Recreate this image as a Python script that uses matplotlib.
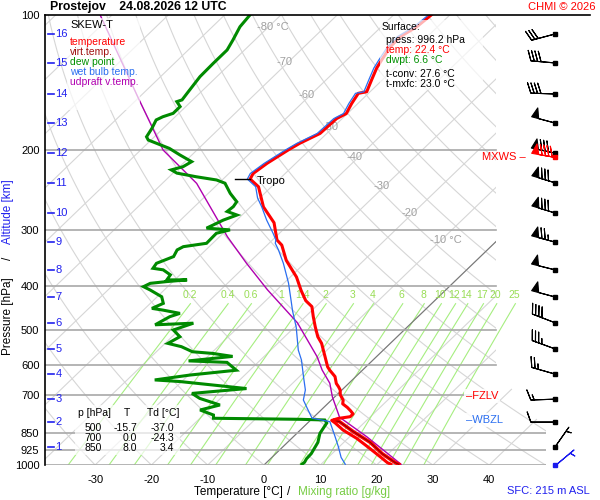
import numpy as np
import matplotlib
matplotlib.use('Agg')
import matplotlib.pyplot as plt
from matplotlib.patches import Polygon, Rectangle
from matplotlib.lines import Line2D
from matplotlib.ticker import NullLocator
import matplotlib.patheffects as pe

plt.rcParams['font.family'] = ['Liberation Sans', 'DejaVu Sans']

# ---------------- data ----------------
temp_p = [996.2, 988.2, 958.4, 918.3, 873.0, 836.3, 806.6, 796.0, 788.0, 781.0, 770.0, 758.0,
          745.0, 731.3, 717.6, 698.2, 681.3, 670.0, 658.8, 636.0, 615.7, 605.2, 573.7, 536.7,
          518.8, 492.9, 468.2, 444.7, 431.3, 409.4, 382.2, 350.9, 324.6, 316.2, 289.5, 267.0,
          240.8, 231.5, 225.0, 213.6, 199.5, 192.9, 183.3, 169.9, 165.6, 157.3, 149.3, 148.1,
          139.5, 131.2, 125.9, 117.6, 111.7, 106.2, 100.0]
temp_T = [22.4, 21.5, 19.1, 15.7, 11.6, 7.6, 4.9, 3.8, 4.6, 6.4, 6.4, 5.4,
          4.2, 2.7, 2.1, 0.6, -0.3, -1.2, -2.2, -3.7, -5.8, -6.8, -9.2, -12.2,
          -14.1, -16.4, -18.6, -20.7, -22.9, -25.6, -28.9, -33.8, -37.4, -39.2, -42.9, -47.7,
          -52.3, -55.2, -55.7, -55.1, -53.8, -53.0, -51.2, -51.0, -50.2, -51.1, -51.8, -50.6,
          -51.9, -53.2, -53.8, -54.7, -54.8, -53.7, -53.3]

virt_p = [996.2, 987.0, 943.7, 890.7, 843.0, 801.0, 796.0]
virt_T = [23.8, 22.8, 18.9, 14.7, 9.7, 5.4, 4.3]

dew_p = [996.2, 986.0, 968.6, 943.7, 890.7, 850.7, 806.6, 794.3, 791.5, 787.3, 774.3, 754.7,
         735.6, 711.2, 693.3, 676.3, 652.5, 647.1, 631.0, 615.7, 591.5, 587.0, 573.7, 565.0,
         560.2, 545.8, 536.7, 518.8, 501.2, 484.0, 488.0, 468.2, 460.3, 452.7, 448.7, 437.3,
         422.8, 408.4, 401.5, 394.7, 391.2, 387.8, 387.8, 378.0, 368.4, 365.5, 356.3, 344.2,
         332.7, 327.2, 321.6, 305.5, 300.3, 297.6, 292.9, 285.6, 278.3, 273.3, 266.6, 260.0,
         249.1, 236.5, 232.6, 228.8, 224.6, 220.9, 217.3, 211.8, 204.7, 197.9, 194.1, 189.6,
         186.5, 178.6, 171.1, 168.3, 165.4, 159.8, 155.8, 154.4, 148.0, 137.1, 128.0, 119.6,
         113.7, 106.2, 100.0]
dew_T = [6.6, 6.7, 6.4, 6.3, 5.4, 4.1, 3.4, 2.5, -2.0, -17.6, -18.2, -21.5,
         -18.9, -23.7, -26.0, -17.2, -30.3, -35.1, -29.7, -22.4, -25.5, -32.6, -25.6, -29.7,
         -33.6, -36.5, -39.5, -38.6, -41.0, -38.7, -45.2, -44.1, -42.9, -46.5, -48.8, -47.7,
         -49.2, -52.5, -54.3, -53.7, -51.1, -47.8, -51.4, -51.7, -53.9, -56.0, -56.3, -54.5,
         -55.1, -54.6, -51.1, -51.2, -49.4, -53.9, -53.3, -52.4, -50.9, -53.3, -53.1, -53.4,
         -56.1, -58.9, -61.0, -65.2, -69.3, -70.9, -69.4, -68.8, -72.1, -75.2, -77.6, -80.5,
         -81.4, -82.0, -82.8, -82.2, -81.0, -81.0, -82.5, -81.9, -82.3, -83.0, -83.1, -83.1,
         -83.9, -85.1, -85.5]

wet_p = [996.2, 962.0, 910.0, 865.0, 801.0, 787.0, 755.0, 717.0, 681.0, 636.0, 584.5, 555.5,
         494.0, 454.0, 431.3, 394.2, 356.0, 332.7, 321.5, 316.2, 305.7, 285.6, 267.0, 255.0,
         240.8, 231.5, 225.0, 213.6, 199.5, 192.9, 183.3, 169.9, 165.6, 157.3, 149.3, 148.1,
         139.5, 131.2, 125.9, 117.6, 111.7, 106.2, 100.0]
wet_T = [14.3, 12.3, 9.8, 7.4, 3.7, -0.1, -2.3, -5.0, -6.5, -9.3, -12.7, -15.1,
         -19.7, -23.4, -25.5, -29.2, -33.8, -37.1, -38.9, -39.4, -41.1, -44.7, -48.0, -50.4,
         -52.8, -55.7, -56.2, -55.6, -54.3, -53.5, -51.7, -51.5, -50.7, -51.6, -52.3, -51.1,
         -52.4, -53.7, -54.3, -55.2, -55.3, -54.2, -53.8]

parcel_p = [996.2, 866.0, 783.0, 706.0, 658.0, 615.0, 575.0, 483.0, 408.0, 356.3, 311.0,
            236.7, 199.6, 152.1, 100.0]
parcel_T = [24.2, 13.1, 4.6, -0.4, -3.4, -7.2, -10.5, -20.3, -31.7, -40.3, -48.6,
            -63.9, -76.0, -90.3, -112.1]

# wind: altitude [km] levels, pressure, direction [deg], speed [kt]
alt_km = [16, 15, 14, 13, 12, 11, 10, 9, 8, 7, 6, 5, 4, 3, 2, 1]
alt_p = [110.2, 127.8, 149.8, 173.8, 202.7, 236.0, 275.4, 319.6, 368.4, 423.2, 482.9,
         552.0, 628.0, 714.0, 803.0, 912.0]
wind_dir = [255, 275, 272, 285, 282, 287, 287, 285, 284, 285, 291, 290, 286, 268, 270, 35]
wind_spd = [30, 40, 40, 50, 80, 80, 80, 75, 50, 50, 40, 35, 25, 15, 10, 5]
sfc_p, sfc_dir, sfc_spd = 1000.0, 50, 5
mxws_p, mxws_dir, mxws_spd = 207.0, 280, 90

mix_ratios = [0.2, 0.4, 0.6, 1, 1.4, 2, 3, 4, 6, 8, 10, 12, 14, 17, 20, 25]
mix_labels = ['0.2', '0.4', '0.6', '1', '1.4', '2', '3', '4', '6', '8', '10', '12', '14', '17', '20', '25']

p_ticks = [100, 200, 300, 400, 500, 600, 700, 850, 925, 1000]
t_ticks = [-30, -20, -10, 0, 10, 20, 30, 40]
iso_label_T = [-80, -70, -60, -50, -40, -30, -20, -10]
iso_label_p = [106.3, 127.2, 150.6, 177.0, 206.7, 239.8, 275.5, 316.0]
iso_label_txt = ['-80 °C', '-70', '-60', '-50', '-40', '-30', '-20', '-10 °C']

tab_p = [500, 700, 850]
tab_T = [-15.7, 0.0, 8.0]
tab_Td = [-37.0, -24.3, 3.4]

sfc_press, sfc_temp, sfc_dwpt, t_conv, t_mxfc = 996.2, 22.4, 6.6, 27.6, 23.0
tropo_p, tropo_T = 231.5, -55.2
fzlv_p, wbzl_p = 703.0, 794.0

SKEW = 83.0


def X(T, p):
    return np.asarray(T, dtype=float) + SKEW * np.log10(1000.0 / np.asarray(p, dtype=float))


W, H = 600, 500


def fx(px):
    return px / W


def fy(py):
    return 1 - py / H


fig = plt.figure(figsize=(6, 5), dpi=100, facecolor='white')
ax = fig.add_axes([fx(45), fy(465), 501 / W, 450 / H])
ax.set_yscale('log')
ax.set_ylim(1000, 100)
ax.set_xlim(-38.9, 50.09)
ax.yaxis.set_minor_locator(NullLocator())
ax.set_yticks(p_ticks)
ax.set_yticklabels([str(v) for v in p_ticks])
ax.set_xticks(t_ticks)
ax.set_xticklabels([str(v) for v in t_ticks])
ax.tick_params(length=0, labelsize=8)
ax.tick_params(axis='y', pad=4)
ax.tick_params(axis='x', pad=7)
for s in ['top', 'right', 'bottom']:
    ax.spines[s].set_visible(False)
ax.spines['left'].set_linewidth(1.2)

clip_poly = Polygon([(0, 1), (451 / 501, 1), (451 / 501, 95 / 450), (1, 35 / 450), (1, 0), (0, 0)],
                    closed=True, transform=ax.transAxes, facecolor='none', edgecolor='none')

# isotherms
for t in range(-140, 60, 10):
    pp = np.array([1000.0, 100.0])
    ln, = ax.plot(X([t, t], pp), pp, color='#d6d6d6', lw=0.8, zorder=1)
    ln.set_clip_path(clip_poly)
ln, = ax.plot(X([0, 0], [1000, 100]), [1000, 100], color='#777777', lw=0.8, zorder=1.5)
ln.set_clip_path(clip_poly)

# dry adiabats
pg = np.logspace(3, 2, 80)
for th in range(-40, 230, 10):
    tt = (th + 273.15) * (pg / 1000.0) ** 0.2857 - 273.15
    ln, = ax.plot(X(tt, pg), pg, color='#d6d6d6', lw=0.8, zorder=1)
    ln.set_clip_path(clip_poly)

# mixing ratio lines
pm = np.linspace(1000, 438, 40)
for w, lab in zip(mix_ratios, mix_labels):
    e = w * pm / (622.0 + w)
    lr = np.log(e / 6.112)
    td = 243.5 * lr / (17.67 - lr)
    ax.plot(X(td, pm), pm, color='#a6ee80', lw=0.8, zorder=1.2)
    e0 = w * 419.0 / (622.0 + w)
    l0 = np.log(e0 / 6.112)
    td0 = 243.5 * l0 / (17.67 - l0)
    ax.text(X(td0, 419.0) - 1.2, 419.0, lab, color='#99dd55', fontsize=7.5,
            ha='center', va='center', zorder=2)

# isotherm labels
for t, p, s in zip(iso_label_T, iso_label_p, iso_label_txt):
    ax.text(X(t, p) - 2.1, p, s, color='#a0a0a0', fontsize=8, ha='left', va='center', zorder=2)

# pressure lines
for p in p_ticks[1:]:
    xm = 1.0 if p >= 850 else 451 / 501
    ax.axhline(p, xmin=0, xmax=xm, color='#a8a8a8', lw=1.2, zorder=1.8)

# profiles
ax.plot(X(parcel_T, parcel_p), parcel_p, color='#b000b0', lw=1.0, zorder=3)
ax.plot(X(dew_T, dew_p), dew_p, color='#008a00', lw=2.2, zorder=4, solid_joinstyle='miter')
ax.plot(X(virt_T, virt_p), virt_p, color='#8b0000', lw=0.8, zorder=4.5,
        path_effects=[pe.Stroke(linewidth=2.6, foreground='#ff0000'), pe.Normal()])
ax.plot(X(temp_T, temp_p), temp_p, color='#ff0000', lw=2.2, zorder=5)
ax.plot(X(wet_T, wet_p), wet_p, color='#2a6ef0', lw=0.9, zorder=5.5)

# tropopause
ax.plot([X(tropo_T, tropo_p) - 2.7, X(tropo_T, tropo_p)], [tropo_p, tropo_p], color='k', lw=1, zorder=6)
ax.text(X(tropo_T, tropo_p) + 1.2, tropo_p * 1.01, 'Tropo', fontsize=8, ha='left', va='center', zorder=6)

# altitude labels
ytr = ax.get_yaxis_transform()
for km, p in zip(alt_km, alt_p):
    ax.plot([0.005, 0.017], [p, p], color='#2020ee', lw=1.2, transform=ytr, zorder=6, clip_on=False)
    ax.text(0.021, p, str(km), color='#2020ee', fontsize=8, ha='left', va='center', transform=ytr, zorder=6)

# FZLV / WBZL / MXWS
ax.text(0.8403, fzlv_p, '–FZLV', color='red', fontsize=8, ha='left', va='center', transform=ytr, zorder=7,
        bbox=dict(facecolor='white', edgecolor='none', alpha=0.85, pad=1.5))
ax.text(0.8403, wbzl_p, '–WBZL', color='#2a6ef0', fontsize=8, ha='left', va='center', transform=ytr, zorder=7,
        bbox=dict(facecolor='white', edgecolor='none', alpha=0.85, pad=1.5))
ax.text(0.872, mxws_p, 'MXWS –', color='red', fontsize=8, ha='left', va='center', transform=ytr,
        zorder=7, clip_on=False)

# wind barbs
wax = fig.add_axes([fx(500), fy(465), 100 / W, 450 / H], zorder=3)
wax.set_xlim(500, 600)
wax.set_yscale('log')
wax.set_ylim(1000, 100)
wax.axis('off')
wax.patch.set_alpha(0)
bsz = dict(spacing=0.14, height=0.42, width=0.3)
d = np.deg2rad(wind_dir)
sp = np.array(wind_spd, dtype=float)
wax.barbs(np.full(len(alt_p), 555.0), alt_p, -sp * np.sin(d), -sp * np.cos(d),
          length=5.9, lw=0.8, color='k', sizes=bsz, clip_on=False)
wax.plot(np.full(len(alt_p), 555.0), alt_p, 's', ms=2.6, color='k', clip_on=False)
dm = np.deg2rad(mxws_dir)
wax.barbs([555.0], [mxws_p], [-mxws_spd * np.sin(dm)], [-mxws_spd * np.cos(dm)],
          length=5.9, lw=0.8, color='red', sizes=bsz, clip_on=False)
wax.plot([555.0], [mxws_p], 's', ms=2.6, color='red', clip_on=False)
ds = np.deg2rad(sfc_dir)
wax.barbs([555.0], [sfc_p], [-sfc_spd * np.sin(ds)], [-sfc_spd * np.cos(ds)],
          length=5.9, lw=0.8, color='#1a1aee', sizes=bsz, clip_on=False)
wax.plot([555.0], [sfc_p], 's', ms=2.6, color='#1a1aee', clip_on=False)

# boxes (semi-transparent white)
for (x0, y0, x1, y1) in [(67, 18, 140, 110), (380, 20, 483, 90), (75, 405, 180, 455)]:
    fig.patches.append(Rectangle((fx(x0), fy(y1)), (x1 - x0) / W, (y1 - y0) / H,
                                 transform=fig.transFigure, facecolor='white', edgecolor='none',
                                 alpha=0.7, zorder=2))

# top line and titles
fig.add_artist(Line2D([fx(45), fx(590)], [fy(15), fy(15)], color='k', lw=1.2, transform=fig.transFigure))
fig.text(fx(50), fy(7), 'Prostejov    24.08.2026 12 UTC', fontsize=8.8, fontweight='bold', ha='left', va='center')
fig.text(fx(596), fy(7), 'CHMI © 2026', fontsize=8, color='red', ha='right', va='center')

# legend
fig.text(fx(70), fy(25), 'SKEW-T', fontsize=8, ha='left', va='center', zorder=4)
leg = [('temperature', '#ff0000'), ('virt.temp.', '#a01010'), ('dew point', '#009000'),
       ('wet bulb temp.', '#2a6ef0'), ('udpraft v.temp.', '#b000b0')]
for i, (s, c) in enumerate(leg):
    fig.text(fx(70), fy(42 + 10 * i), s, fontsize=7.5, color=c, ha='left', va='center', zorder=4)

# surface box
fig.text(fx(382), fy(27), 'Surface:', fontsize=7.5, ha='left', va='center', zorder=4)
fig.text(fx(386), fy(40), f'press: {sfc_press:.1f} hPa', fontsize=7.5, ha='left', va='center', zorder=4)
fig.text(fx(386), fy(50), f'temp: {sfc_temp:.1f} °C', fontsize=7.5, color='red', ha='left', va='center', zorder=4)
fig.text(fx(386), fy(60), f'dwpt: {sfc_dwpt:.1f} °C', fontsize=7.5, color='#009000', ha='left', va='center', zorder=4)
fig.text(fx(386), fy(74), f't-conv: {t_conv:.1f} °C', fontsize=7.5, ha='left', va='center', zorder=4)
fig.text(fx(386), fy(84), f't-mxfc: {t_mxfc:.1f} °C', fontsize=7.5, ha='left', va='center', zorder=4)

# table
fig.text(fx(78), fy(413), 'p [hPa]', fontsize=7.5, ha='left', va='center', zorder=4)
fig.text(fx(127), fy(413), 'T', fontsize=7.5, ha='center', va='center', zorder=4)
fig.text(fx(147), fy(413), 'Td [°C]', fontsize=7.5, ha='left', va='center', zorder=4)
for i, (p, t, td) in enumerate(zip(tab_p, tab_T, tab_Td)):
    yy = fy(428 + 10 * i)
    fig.text(fx(102), yy, f'{p}', fontsize=7.5, ha='right', va='center', zorder=4)
    fig.text(fx(137), yy, f'{t:.1f}', fontsize=7.5, ha='right', va='center', zorder=4)
    fig.text(fx(174), yy, f'{td:.1f}', fontsize=7.5, ha='right', va='center', zorder=4)

# axis labels
fig.text(fx(8), fy(316), 'Pressure [hPa]', fontsize=8.5, rotation=90, ha='center', va='center')
fig.text(fx(8), fy(258), '/', fontsize=8.5, rotation=90, ha='center', va='center')
fig.text(fx(8), fy(212), 'Altitude [km]', fontsize=8.5, rotation=90, ha='center', va='center', color='#2020ee')
fig.text(fx(238), fy(492), 'Temperature [°C]', fontsize=8.5, ha='center', va='center')
fig.text(fx(289), fy(492), '/', fontsize=8.5, ha='center', va='center')
fig.text(fx(344), fy(492), 'Mixing ratio [g/kg]', fontsize=8.5, ha='center', va='center', color='#77cc44')
fig.text(fx(590), fy(491), 'SFC: 215 m ASL', fontsize=8, ha='right', va='center', color='#2020ee')

fig.savefig('out.png', dpi=100, facecolor='white')
